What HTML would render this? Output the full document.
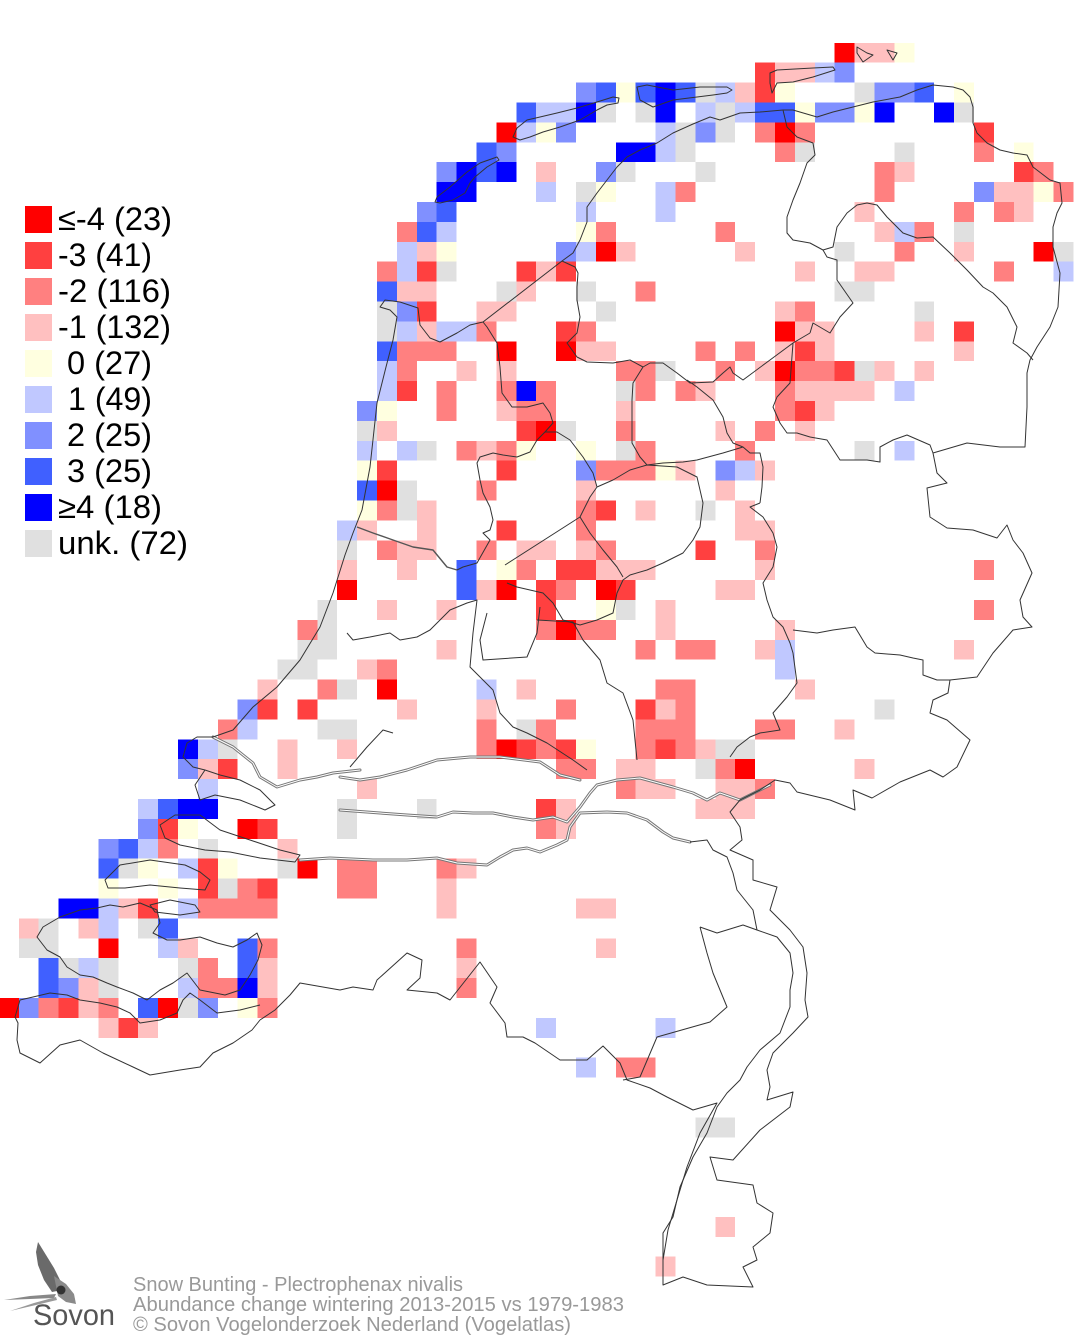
<!DOCTYPE html>
<html><head><meta charset="utf-8"><style>
html,body{margin:0;padding:0;background:#fff;}
svg{display:block;}
</style></head><body>
<svg width="1074" height="1340" viewBox="0 0 1074 1340" xmlns="http://www.w3.org/2000/svg">
<rect width="1074" height="1340" fill="#fff"/>
<g transform="translate(-1.1,3) scale(19.9)" shape-rendering="crispEdges" stroke="none">
<path fill="#ff0000" d="M42 2h1v1h-1zM25 6h1v1h-1zM39 6h1v1h-1zM30 12h1v1h-1zM52 12h1v1h-1zM39 16h1v1h-1zM25 17h1v1h-1zM28 17h1v1h-1zM39 18h1v1h-1zM27 21h1v1h-1zM19 24h1v1h-1zM17 29h1v1h-1zM25 29h1v1h-1zM30 29h1v1h-1zM28 31h1v1h-1zM19 34h1v1h-1zM25 37h1v1h-1zM37 38h1v1h-1zM12 41h1v1h-1zM15 43h1v1h-1zM5 47h1v1h-1zM0 50h1v1h-1zM8 50h1v1h-1z"/>
<path fill="#ff4040" d="M38 3h1v1h-1zM38 4h1v1h-1zM49 6h1v1h-1zM51 8h1v1h-1zM21 13h1v1h-1zM26 13h1v1h-1zM28 13h1v1h-1zM21 15h1v1h-1zM28 16h1v1h-1zM48 16h1v1h-1zM40 17h1v1h-1zM42 18h1v1h-1zM20 19h1v1h-1zM40 20h1v1h-1zM26 21h1v1h-1zM19 23h1v1h-1zM25 23h1v1h-1zM30 25h1v1h-1zM25 26h1v1h-1zM35 27h1v1h-1zM28 28h2v1h-2zM27 29h1v1h-1zM31 29h1v1h-1zM27 30h1v1h-1zM13 35h1v1h-1zM15 35h1v1h-1zM32 35h1v1h-1zM26 37h1v1h-1zM28 37h1v1h-1zM33 37h1v1h-1zM11 38h1v1h-1zM27 40h1v1h-1zM8 41h1v1h-1zM13 41h1v1h-1zM10 43h1v1h-1zM10 44h1v1h-1zM13 44h1v1h-1zM7 45h1v1h-1zM3 50h1v1h-1zM6 51h1v1h-1z"/>
<path fill="#ff8080" d="M38 6h1v1h-1zM40 6h1v1h-1zM39 7h1v1h-1zM49 7h1v1h-1zM44 8h1v1h-1zM52 8h1v1h-1zM34 9h1v1h-1zM44 9h1v1h-1zM53 9h1v1h-1zM48 10h1v1h-1zM50 10h1v1h-1zM20 11h1v1h-1zM30 11h1v1h-1zM36 11h1v1h-1zM46 11h1v1h-1zM45 12h1v1h-1zM19 13h1v1h-1zM50 13h1v1h-1zM32 14h1v1h-1zM40 15h1v1h-1zM24 16h1v1h-1zM29 16h1v1h-1zM20 17h3v1h-3zM35 17h1v1h-1zM37 17h1v1h-1zM20 18h1v1h-1zM31 18h2v1h-2zM36 18h1v1h-1zM40 18h2v1h-2zM22 19h1v1h-1zM25 19h1v1h-1zM27 19h1v1h-1zM32 19h1v1h-1zM34 19h1v1h-1zM39 19h1v1h-1zM22 20h1v1h-1zM26 20h2v1h-2zM39 20h1v1h-1zM31 21h1v1h-1zM38 21h1v1h-1zM23 22h1v1h-1zM25 22h1v1h-1zM32 22h1v1h-1zM37 22h1v1h-1zM30 23h3v1h-3zM24 24h1v1h-1zM19 25h1v1h-1zM29 25h1v1h-1zM29 26h1v1h-1zM19 27h1v1h-1zM24 27h1v1h-1zM30 27h1v1h-1zM38 27h1v1h-1zM26 28h1v1h-1zM49 28h1v1h-1zM28 29h1v1h-1zM49 30h1v1h-1zM15 31h1v1h-1zM27 31h1v1h-1zM29 31h2v1h-2zM32 32h1v1h-1zM34 32h2v1h-2zM19 33h1v1h-1zM16 34h1v1h-1zM33 34h2v1h-2zM28 35h1v1h-1zM34 35h1v1h-1zM11 36h1v1h-1zM24 36h1v1h-1zM27 36h1v1h-1zM32 36h3v1h-3zM38 36h2v1h-2zM24 37h1v1h-1zM27 37h1v1h-1zM32 37h1v1h-1zM34 37h1v1h-1zM28 38h2v1h-2zM36 38h1v1h-1zM31 39h1v1h-1zM38 39h1v1h-1zM27 41h1v1h-1zM8 42h1v1h-1zM17 43h2v1h-2zM22 43h1v1h-1zM12 44h1v1h-1zM17 44h2v1h-2zM10 45h4v1h-4zM13 47h1v1h-1zM23 47h1v1h-1zM10 48h1v1h-1zM10 49h2v1h-2zM23 49h1v1h-1zM2 50h1v1h-1zM5 50h1v1h-1zM13 50h1v1h-1zM31 53h2v1h-2z"/>
<path fill="#ffc0c0" d="M43 2h2v1h-2zM39 3h2v1h-2zM37 4h1v1h-1zM27 8h1v1h-1zM45 8h1v1h-1zM50 9h2v1h-2zM43 10h1v1h-1zM51 10h1v1h-1zM44 11h1v1h-1zM21 12h1v1h-1zM31 12h1v1h-1zM37 12h1v1h-1zM48 12h1v1h-1zM27 13h1v1h-1zM40 13h1v1h-1zM43 13h2v1h-2zM20 14h2v1h-2zM26 14h1v1h-1zM24 15h2v1h-2zM39 15h1v1h-1zM21 16h1v1h-1zM40 16h2v1h-2zM46 16h1v1h-1zM29 17h2v1h-2zM39 17h1v1h-1zM41 17h1v1h-1zM48 17h1v1h-1zM23 18h1v1h-1zM25 18h1v1h-1zM38 18h1v1h-1zM44 18h1v1h-1zM46 18h1v1h-1zM35 19h1v1h-1zM40 19h4v1h-4zM25 20h1v1h-1zM31 20h1v1h-1zM41 20h1v1h-1zM19 21h1v1h-1zM36 21h1v1h-1zM40 21h1v1h-1zM24 22h1v1h-1zM34 23h1v1h-1zM38 23h1v1h-1zM29 24h1v1h-1zM36 24h1v1h-1zM21 25h1v1h-1zM32 25h1v1h-1zM37 25h1v1h-1zM18 26h1v1h-1zM21 26h1v1h-1zM37 26h2v1h-2zM20 27h2v1h-2zM26 27h2v1h-2zM29 27h1v1h-1zM17 28h1v1h-1zM20 28h1v1h-1zM30 28h3v1h-3zM38 28h1v1h-1zM24 29h1v1h-1zM36 29h2v1h-2zM19 30h1v1h-1zM22 30h1v1h-1zM33 30h1v1h-1zM33 31h1v1h-1zM39 31h1v1h-1zM22 32h1v1h-1zM38 32h1v1h-1zM48 32h1v1h-1zM18 33h1v1h-1zM13 34h1v1h-1zM26 34h1v1h-1zM40 34h1v1h-1zM20 35h1v1h-1zM24 35h1v1h-1zM33 35h1v1h-1zM42 36h1v1h-1zM14 37h1v1h-1zM17 37h1v1h-1zM35 37h1v1h-1zM10 38h1v1h-1zM14 38h1v1h-1zM31 38h2v1h-2zM43 38h1v1h-1zM18 39h1v1h-1zM32 39h2v1h-2zM36 39h2v1h-2zM28 40h1v1h-1zM35 40h3v1h-3zM28 41h1v1h-1zM14 42h1v1h-1zM23 43h1v1h-1zM22 44h1v1h-1zM6 45h1v1h-1zM22 45h1v1h-1zM29 45h2v1h-2zM1 46h1v1h-1zM4 46h1v1h-1zM9 47h1v1h-1zM30 47h1v1h-1zM13 48h1v1h-1zM23 48h1v1h-1zM4 49h1v1h-1zM13 49h1v1h-1zM4 50h1v1h-1zM5 51h1v1h-1zM7 51h1v1h-1zM36 61h1v1h-1zM33 63h1v1h-1z"/>
<path fill="#ffffe0" d="M45 2h1v1h-1zM31 4h1v1h-1zM39 4h1v1h-1zM48 4h1v1h-1zM40 5h1v1h-1zM43 5h1v1h-1zM27 6h1v1h-1zM51 7h1v1h-1zM30 9h1v1h-1zM52 9h1v1h-1zM29 11h1v1h-1zM22 12h1v1h-1zM19 20h1v1h-1zM26 22h1v1h-1zM29 22h1v1h-1zM18 23h1v1h-1zM33 23h1v1h-1zM18 25h1v1h-1zM25 28h1v1h-1zM30 30h1v1h-1zM29 37h1v1h-1zM9 41h1v1h-1zM7 43h1v1h-1zM11 43h1v1h-1zM5 44h1v1h-1zM8 44h1v1h-1zM12 50h1v1h-1z"/>
<path fill="#c0c8ff" d="M41 3h1v1h-1zM36 4h1v1h-1zM27 5h2v1h-2zM35 5h1v1h-1zM37 5h1v1h-1zM26 6h1v1h-1zM33 6h1v1h-1zM33 7h1v1h-1zM27 9h1v1h-1zM33 9h1v1h-1zM29 10h1v1h-1zM33 10h1v1h-1zM22 11h1v1h-1zM45 11h1v1h-1zM20 12h1v1h-1zM29 12h1v1h-1zM20 13h1v1h-1zM53 13h1v1h-1zM20 16h1v1h-1zM22 16h2v1h-2zM19 18h1v1h-1zM19 19h1v1h-1zM45 19h1v1h-1zM18 22h1v1h-1zM20 22h1v1h-1zM45 22h1v1h-1zM37 23h1v1h-1zM17 26h1v1h-1zM39 32h1v1h-1zM39 33h1v1h-1zM24 34h1v1h-1zM12 36h1v1h-1zM10 37h1v1h-1zM10 39h1v1h-1zM7 40h1v1h-1zM7 42h1v1h-1zM9 43h1v1h-1zM5 45h1v1h-1zM9 45h1v1h-1zM5 46h1v1h-1zM8 47h1v1h-1zM4 48h1v1h-1zM9 49h1v1h-1zM27 51h1v1h-1zM33 51h1v1h-1zM29 53h1v1h-1z"/>
<path fill="#8090ff" d="M42 3h1v1h-1zM29 4h1v1h-1zM44 4h2v1h-2zM41 5h2v1h-2zM28 6h1v1h-1zM35 6h1v1h-1zM25 7h1v1h-1zM22 8h1v1h-1zM30 8h1v1h-1zM49 9h1v1h-1zM21 10h1v1h-1zM28 12h1v1h-1zM20 15h1v1h-1zM18 20h1v1h-1zM29 23h1v1h-1zM36 23h1v1h-1zM12 35h1v1h-1zM9 38h1v1h-1zM7 41h1v1h-1zM5 42h1v1h-1zM3 49h1v1h-1zM1 50h1v1h-1zM10 50h1v1h-1z"/>
<path fill="#4060ff" d="M30 4h1v1h-1zM32 4h1v1h-1zM34 4h1v1h-1zM46 4h1v1h-1zM26 5h1v1h-1zM38 5h2v1h-2zM24 7h1v1h-1zM24 8h1v1h-1zM22 10h1v1h-1zM21 11h1v1h-1zM19 14h1v1h-1zM19 17h1v1h-1zM18 24h1v1h-1zM23 28h1v2h-1zM8 40h1v1h-1zM6 42h1v1h-1zM5 43h1v1h-1zM8 46h1v1h-1zM12 47h1v2h-1zM2 48h1v2h-1zM7 50h1v1h-1z"/>
<path fill="#0000ff" d="M33 4h1v2h-1zM29 5h1v1h-1zM44 5h1v1h-1zM47 5h1v1h-1zM31 7h2v1h-2zM23 8h1v1h-1zM25 8h1v1h-1zM22 9h2v1h-2zM26 19h1v1h-1zM9 37h1v1h-1zM9 40h2v1h-2zM3 45h2v1h-2zM12 49h1v1h-1z"/>
<path fill="#e0e0e0" d="M35 4h1v1h-1zM43 4h1v1h-1zM30 5h1v1h-1zM32 5h1v1h-1zM36 5h1v1h-1zM48 5h1v1h-1zM34 6h1v1h-1zM36 6h1v1h-1zM34 7h1v1h-1zM40 7h1v1h-1zM45 7h1v1h-1zM31 8h1v1h-1zM35 8h1v1h-1zM29 9h1v1h-1zM48 11h1v1h-1zM42 12h1v1h-1zM53 12h1v1h-1zM22 13h1v1h-1zM25 14h1v1h-1zM29 14h1v1h-1zM42 14h2v1h-2zM19 15h1v1h-1zM30 15h1v1h-1zM46 15h1v1h-1zM19 16h1v1h-1zM33 18h1v1h-1zM43 18h1v1h-1zM31 19h1v1h-1zM18 21h1v1h-1zM28 21h1v1h-1zM21 22h1v1h-1zM31 22h1v1h-1zM43 22h1v1h-1zM20 24h1v2h-1zM35 25h1v1h-1zM17 27h1v1h-1zM16 30h1v2h-1zM31 30h1v1h-1zM15 32h2v1h-2zM14 33h2v1h-2zM17 34h1v1h-1zM44 35h1v1h-1zM16 36h2v1h-2zM26 36h1v1h-1zM11 37h1v1h-1zM36 37h2v1h-2zM35 38h1v1h-1zM17 40h1v2h-1zM21 40h1v1h-1zM10 42h1v1h-1zM6 43h1v1h-1zM14 43h1v1h-1zM11 44h1v1h-1zM2 46h1v1h-1zM7 46h1v1h-1zM1 47h2v1h-2zM3 48h1v1h-1zM5 48h1v2h-1zM9 48h1v1h-1zM9 50h1v1h-1zM35 56h2v1h-2z"/>
</g>

<!-- rivers (double lines) -->
<g fill="none" stroke-linejoin="round" stroke-linecap="round">
<g stroke="#777" stroke-width="3">
<path d="M213,737 L233,747 L253,763 L260,777 L277,787 L300,780 L317,777 L333,773 L360,770"/>
<path d="M340,777 L360,780 L380,777 L407,770 L437,760 L470,757 L500,757 L540,762 L560,775 L580,780"/>
<path d="M340,810 L380,813 L407,815 L437,817 L453,812 L473,813 L493,813 L513,817 L533,820 L553,817 L567,822 L580,807 L590,793 L597,785 L617,780 L640,778 L673,787 L693,793 L707,800 L720,793 L740,800 L770,785"/>
<path d="M300,860 L330,858 L373,860 L407,860 L437,858 L457,863 L487,865 L500,857 L513,850 L527,848 L540,852 L557,845 L567,840 L570,827 L580,813 L607,812 L627,813 L647,820 L663,832 L673,838 L690,842"/>
</g>
<g stroke="#fff" stroke-width="1">
<path d="M213,737 L233,747 L253,763 L260,777 L277,787 L300,780 L317,777 L333,773 L360,770"/>
<path d="M340,777 L360,780 L380,777 L407,770 L437,760 L470,757 L500,757 L540,762 L560,775 L580,780"/>
<path d="M340,810 L380,813 L407,815 L437,817 L453,812 L473,813 L493,813 L513,817 L533,820 L553,817 L567,822 L580,807 L590,793 L597,785 L617,780 L640,778 L673,787 L693,793 L707,800 L720,793 L740,800 L770,785"/>
<path d="M300,860 L330,858 L373,860 L407,860 L437,858 L457,863 L487,865 L500,857 L513,850 L527,848 L540,852 L557,845 L567,840 L570,827 L580,813 L607,812 L627,813 L647,820 L663,832 L673,838 L690,842"/>
</g>
</g>

<!-- outlines -->
<g fill="none" stroke="#333" stroke-width="1" stroke-linejoin="round">
<path d="M377,403 L386,367 L393,340 L397,317 L390,310 L380,307 L385,300 L400,302 L418,308 L420,325 L430,338 L440,342 L457,333 L470,325 L483,322 L562,261 L573,253 L580,240 L587,222 L587,207 L597,193 L607,180 L617,167 L627,157 L640,150 L657,143 L673,133 L693,124 L710,117 L720,120 L740,113 L760,112 L783,110 L793,110 L817,117 L833,112 L853,107 L873,102 L900,97 L917,90 L933,85 L953,87 L963,90 L970,97 L973,107 L973,123 L977,133 L987,143 L1000,150 L1013,153 L1027,155 L1033,167 L1050,180 L1060,183 L1062,203 L1057,213 L1053,227 L1053,247 L1060,273 L1058,307 L1050,327 L1037,347 L1030,360 L1027,373 L1027,407 L1025,447 L1000,447 L967,443 L933,453 L937,473 L947,483 L927,488 L930,517 L947,528 L973,530 L997,538 L1007,525 L1013,540 L1023,553 L1032,573 L1020,600 L1023,617 L1032,627 L1013,630 L993,653 L977,677 L950,680 L948,693 L933,700 L930,713 L947,720 L970,740 L957,767 L943,777 L930,770 L900,782 L872,798 L853,790 L855,810 L830,800 L797,792 L790,783 L775,780 L760,790 L740,800 L730,812 L740,827 L742,840 L730,850 L753,860 L753,880 L777,887 L770,910 L790,930 L803,947 L807,973 L805,1000 L808,1017 L793,1033 L773,1053 L767,1070 L770,1087 L767,1100 L793,1092 L790,1107 L760,1130 L733,1160 L710,1157 L717,1180 L753,1185 L757,1203 L773,1213 L770,1233 L753,1247 L757,1260 L743,1267 L753,1287 L707,1285 L683,1277 L663,1285 L663,1260 L668,1230 L677,1200 L687,1167 L700,1133 L717,1103 L693,1110 L667,1097 L650,1088 L627,1080 L620,1063 L603,1046 L587,1060 L560,1060 L535,1043 L523,1037 L507,1037 L505,1023 L490,1003 L497,987 L480,962 L450,1000 L437,993 L407,990 L420,978 L422,960 L407,953 L377,980 L373,990 L353,987 L340,990 L300,983 L290,995 L275,1010 L260,1020 L252,1030 L233,1043 L213,1053 L200,1067 L180,1070 L150,1075 L133,1067 L103,1053 L80,1040 L60,1045 L40,1063 L20,1053 L17,1040 L18,1023 L15,1017 L20,1000 L33,997 L50,993 L67,995 L80,1000 L100,1003 L117,1007 L130,1013 L140,1023 L160,1020 L177,1013 L183,1000 L190,993 L200,1000 L217,1013 L240,1010 L260,1005"/>
<path d="M377,403 L370,467 L362,510 L353,533 L345,555 L333,593 L320,627 L300,660 L277,687 L253,707 L233,730 L213,737 L197,737 L187,743 L183,757 L193,767 L205,770"/>
<path d="M435,202 L437,197 L450,187 L467,172 L480,163 L497,157 L499,160 L487,167 L475,177 L470,183 L465,193 L453,200 L440,203 Z"/>
<path d="M513,137 L517,128 L527,120 L540,117 L557,113 L577,108 L597,102 L613,97 L619,98 L618,103 L607,105 L597,110 L580,120 L560,127 L543,132 L530,137 L520,140 Z"/>
<path d="M637,87 L647,85 L673,90 L700,87 L727,87 L732,90 L727,93 L713,95 L673,100 L653,107 L640,100 Z"/>
<path d="M770,73 L777,70 L813,68 L833,67 L835,70 L813,77 L793,82 L777,83 L772,93 L770,83 Z"/>
<path d="M857,47 L867,53 L873,55 L863,62 L857,53 Z M887,50 L897,53 L893,60 Z"/>
<path d="M205,770 L220,775 L240,780 L260,790 L275,805 L265,810 L240,800 L215,795 L200,800 L195,785 Z"/>
<path d="M160,825 L175,815 L200,815 L220,830 L250,840 L280,850 L300,855 L295,862 L260,858 L230,852 L205,850 L180,845 L165,838 Z"/>
<path d="M105,880 L120,865 L150,860 L185,865 L200,872 L210,880 L205,890 L180,888 L150,885 L125,888 L108,888 Z"/>
<path d="M150,905 L170,900 L195,905 L200,912 L180,915 L155,912 Z"/>
<path d="M37,937 L43,927 L60,917 L80,910 L97,908 L110,905 L123,907 L140,903 L157,910 L160,923 L153,933 L167,940 L180,940 L200,937 L217,943 L233,947 L247,940 L257,933 L262,945 L258,960 L250,975 L240,990 L225,995 L200,990 L187,973 L173,983 L160,990 L147,1000 L133,993 L117,987 L107,983 L93,977 L80,975 L67,967 L60,957 L47,950 Z"/>
<path d="M357,527 L373,533 L393,540 L413,547 L433,550 L447,567 L457,570" stroke="#555" stroke-width="1.4"/>
<path d="M562,261 L575,267 L578,273 L577,287 L577,300 L580,317 L577,333 L567,343 L577,357 L587,362 L613,363 L630,360 L643,367 L650,363 L663,363 L677,373 L690,383 L713,382 L723,373 L730,367 L733,373 L743,380 L770,360 L793,343 L810,333"/>
<path d="M643,367 L633,383 L632,400 L632,443 L640,457 L647,465 L663,463 L683,462 L697,460 L723,453 L743,447 L750,453 L760,453 L763,467 L762,487 L760,503"/>
<path d="M687,380 L697,387 L713,400 L723,417 L727,433 L733,443 L743,447"/>
<path d="M793,343 L790,383 L777,397 L773,407 L780,423 L787,433 L797,433 L810,437"/>
<path d="M483,322 L487,327 L497,343 L500,367 L502,393 L512,407 L527,407 L543,403 L550,413 L553,423 L545,432 L557,432 L570,440 L583,457 L593,473 L597,487 L590,497 L587,503 L580,517 L505,565"/>
<path d="M545,432 L537,440 L530,452 L517,457 L503,455 L493,453 L480,457 L477,463 L480,480 L483,493 L490,507 L493,520 L490,530 L483,533 L490,540 L477,563 L463,567 L457,570"/>
<path d="M597,487 L613,480 L630,470 L647,465 L677,467 L697,477 L700,490 L703,503 L700,527 L693,540 L683,553 L663,563 L647,570 L630,575 L623,580 L617,593 L613,613 L597,620 L580,625 L563,620 L553,603 L543,593 L530,590 L517,587 L507,583"/>
<path d="M580,517 L590,533 L603,550 L617,567 L623,577"/>
<path d="M690,842 L707,840 L713,850 L727,857 L733,873 L737,890 L753,910 L757,930 L777,937 L790,953 L793,973 L790,990 L790,1007 L780,1033 L760,1050 L747,1067 L740,1080 L727,1093 L717,1107 L707,1133 L693,1157 L680,1187 L673,1217 L663,1233 L663,1273"/>
<path d="M783,110 L787,127 L797,137 L813,143 L815,155 L807,163 L800,183 L793,200 L787,217 L787,233 L793,240 L810,243 L823,250 L833,247 L837,227 L847,213 L857,205 L867,203 L877,205 L887,217 L903,233 L917,238 L933,237 L950,253 L967,270 L983,287 L993,293 L1007,307 L1017,327 L1013,343 L1027,353 L1033,360"/>
<path d="M823,250 L827,257 L837,260 L837,280 L853,303 L840,317 L830,333 L813,323 L810,333"/>
<path d="M810,437 L827,440 L840,460 L853,460 L867,460 L880,462 L880,447 L893,440 L907,435 L930,445 L933,453"/>
<path d="M760,503 L750,507 L763,517 L773,533 L777,547 L773,567 L763,583 L767,600 L773,617 L783,627 L790,643 L793,653 L797,683 L787,697 L773,713 L780,730 L760,733 L750,737 L737,747 L730,757"/>
<path d="M793,630 L817,633 L833,630 L855,627 L867,647 L875,653 L900,655 L913,658 L923,660 L923,675 L937,680 L950,680"/>
<path d="M347,633 L353,640 L370,637 L390,633 L400,640 L417,637 L430,630 L440,620 L450,610 L467,603 L477,600 L473,633 L470,667 L480,677 L493,690 L500,713 L513,727 L527,733 L547,743 L573,760 L587,770"/>
<path d="M540,607 L537,633 L527,657 L483,660 L480,640 L487,613"/>
<path d="M537,620 L573,622 L583,640 L600,660 L607,683 L623,693 L633,720 L637,760"/>
<path d="M700,927 L717,933 L743,925 L757,930 M700,927 L707,953 L713,973 L727,1007 L710,1022 L657,1037 L640,1077 L623,1080"/>
<path d="M350,767 L367,747 L383,730 L393,733"/>
</g>

<!-- legend -->
<g font-family="Liberation Sans, Arial, sans-serif" font-size="32" fill="#000">
<rect x="25" y="206" width="27" height="27" fill="#ff0000"/>
<rect x="25" y="242" width="27" height="27" fill="#ff4040"/>
<rect x="25" y="278" width="27" height="27" fill="#ff8080"/>
<rect x="25" y="314" width="27" height="27" fill="#ffc0c0"/>
<rect x="25" y="350" width="27" height="27" fill="#ffffe0"/>
<rect x="25" y="386" width="27" height="27" fill="#c0c8ff"/>
<rect x="25" y="422" width="27" height="27" fill="#8090ff"/>
<rect x="25" y="458" width="27" height="27" fill="#4060ff"/>
<rect x="25" y="494" width="27" height="27" fill="#0000ff"/>
<rect x="25" y="530" width="27" height="27" fill="#e0e0e0"/>
<text x="58" y="230" textLength="114" lengthAdjust="spacingAndGlyphs">≤-4 (23)</text>
<text x="58" y="266" textLength="94" lengthAdjust="spacingAndGlyphs">-3 (41)</text>
<text x="58" y="302" textLength="113" lengthAdjust="spacingAndGlyphs">-2 (116)</text>
<text x="58" y="338" textLength="113" lengthAdjust="spacingAndGlyphs">-1 (132)</text>
<text x="67" y="374" textLength="85" lengthAdjust="spacingAndGlyphs">0 (27)</text>
<text x="68" y="410" textLength="84" lengthAdjust="spacingAndGlyphs">1 (49)</text>
<text x="67" y="446" textLength="85" lengthAdjust="spacingAndGlyphs">2 (25)</text>
<text x="67" y="482" textLength="85" lengthAdjust="spacingAndGlyphs">3 (25)</text>
<text x="58" y="518" textLength="104" lengthAdjust="spacingAndGlyphs">≥4 (18)</text>
<text x="58" y="554" textLength="130" lengthAdjust="spacingAndGlyphs">unk. (72)</text>
</g>

<!-- logo -->
<g>
<path d="M38,1242 L46,1255 L54,1268 L60,1280 L62,1290 L52,1292 L44,1280 L38,1265 L36,1252 Z" fill="#6a6a6a"/>
<path d="M54,1276 L66,1284 L74,1294 L76,1304 L66,1302 L58,1296 Z" fill="#8a8a8a"/>
<circle cx="61" cy="1290" r="4.5" fill="#333"/>
<path d="M56,1294 L30,1296 L4,1300 L30,1299 L54,1298 Z" fill="#888"/>
<path d="M56,1297 L34,1303 L10,1311 L36,1305 L57,1300 Z" fill="#999"/>
<text x="33" y="1325" font-family="Liberation Sans, Arial, sans-serif" font-size="30" fill="#555" textLength="82" lengthAdjust="spacingAndGlyphs">Sovon</text>
</g>

<!-- footer -->
<g font-family="Liberation Sans, Arial, sans-serif" font-size="20" fill="#999">
<text x="133" y="1291" textLength="330" lengthAdjust="spacingAndGlyphs">Snow Bunting - Plectrophenax nivalis</text>
<text x="133" y="1311" textLength="491" lengthAdjust="spacingAndGlyphs">Abundance change wintering  2013-2015 vs 1979-1983</text>
<text x="133" y="1331" textLength="438" lengthAdjust="spacingAndGlyphs">© Sovon Vogelonderzoek Nederland (Vogelatlas)</text>
</g>
</svg>
</body></html>
